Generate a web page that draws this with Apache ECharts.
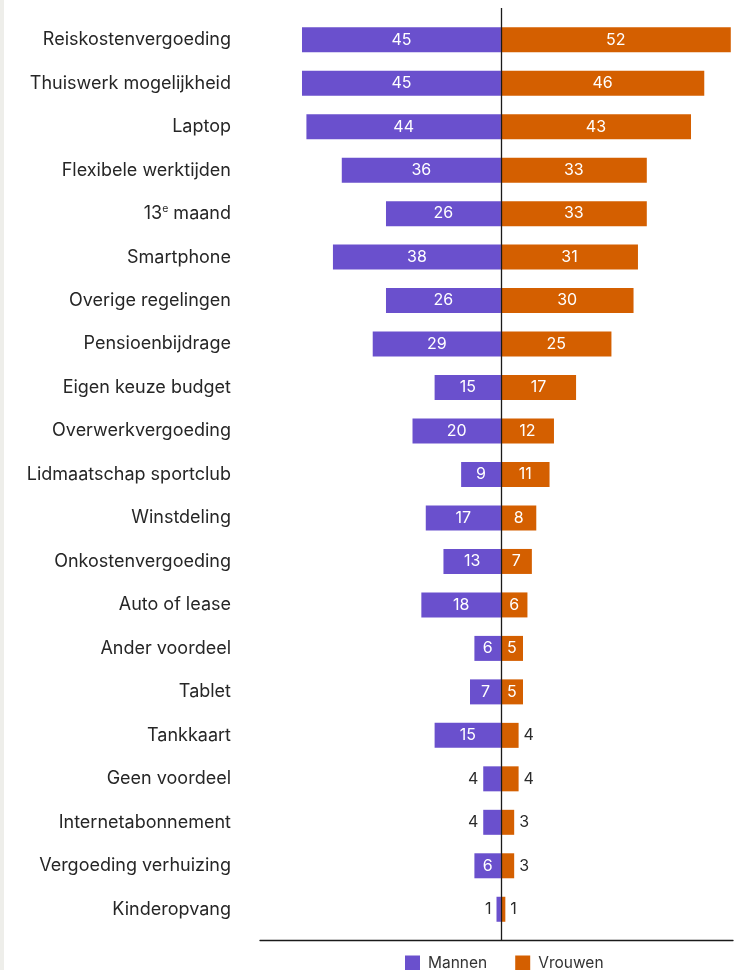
<!DOCTYPE html>
<html>
<head>
<meta charset="utf-8">
<script src="https://cdn.jsdelivr.net/npm/echarts@6/dist/echarts.min.js"></script>
<style>
  html, body { margin: 0; padding: 0; background: #ffffff; }
  #wrap { position: relative; width: 739px; height: 970px; }
  #strip { position: absolute; left: 0; top: 0; width: 4px; height: 970px; background: #eeeeea; }
  #chart { position: absolute; left: 0; top: 0; width: 739px; height: 970px; }
</style>
</head>
<body>
<div id="wrap">
  <div id="strip"></div>
  <div id="chart"></div>
</div>
<script>
// Benefits, share of respondents (%) per group
const categories = [
  'Reiskostenvergoeding', 'Thuiswerk mogelijkheid', 'Laptop', 'Flexibele werktijden',
  '13{sup|e} maand', 'Smartphone', 'Overige regelingen', 'Pensioenbijdrage',
  'Eigen keuze budget', 'Overwerkvergoeding', 'Lidmaatschap sportclub', 'Winstdeling',
  'Onkostenvergoeding', 'Auto of lease', 'Ander voordeel', 'Tablet', 'Tankkaart',
  'Geen voordeel', 'Internetabonnement', 'Vergoeding verhuizing', 'Kinderopvang'
];
const mannen = [45, 45, 44, 36, 26, 38, 26, 29, 15, 20, 9, 17, 13, 18, 6, 7, 15, 4, 4, 6, 1];
const vrouwen = [52, 46, 43, 33, 33, 31, 30, 25, 17, 12, 11, 8, 7, 6, 5, 5, 4, 4, 3, 3, 1];
const seriesNames = ['Mannen', 'Vrouwen'];

const PURPLE = '#6a50cd';
const ORANGE = '#d45f00';
const FONT = 'Inter, "Noto Sans", sans-serif';

// small values get their label outside the bar in dark text
function labelFor(v, side) {
  if (v >= 5) {
    return { show: true, position: 'inside', color: '#ffffff' };
  }
  return { show: true, position: side, color: '#2b2b2b', distance: 5 };
}

const chart = echarts.init(document.getElementById('chart'), null, { renderer: 'canvas' });

const option = {
  animation: false,
  textStyle: { fontFamily: FONT },
  legend: {
    data: seriesNames,
    bottom: -6,
    left: 400,
    itemWidth: 15,
    itemHeight: 15,
    itemGap: 28,
    icon: 'rect',
    textStyle: { fontFamily: FONT, fontSize: 15.5, color: '#333333', padding: [0, 0, 0, 3] }
  },
  grid: { left: 260, right: 6, top: 18, bottom: 39, containLabel: false },
  xAxis: {
    type: 'value',
    min: -54.5,
    max: 52.5,
    offset: 9,
    axisLine: { show: true, onZero: false, lineStyle: { color: '#1a1a1a', width: 1.3 } },
    axisTick: { show: false },
    axisLabel: { show: false },
    splitLine: { show: false }
  },
  yAxis: {
    type: 'category',
    inverse: true,
    data: categories,
    axisLine: { show: false, onZero: false },
    axisTick: { show: false },
    axisLabel: {
      margin: 29,
      fontFamily: FONT,
      fontSize: 18,
      color: '#262626',
      rich: {
        sup: { fontSize: 10.5, verticalAlign: 'top', padding: [0, 0, 9, 0], color: '#262626', fontFamily: FONT }
      }
    }
  },
  series: [
    {
      name: seriesNames[0],
      type: 'bar',
      stack: 'total',
      barWidth: 25,
      itemStyle: { color: PURPLE },
      data: mannen.map(v => ({
        value: -v,
        label: Object.assign(labelFor(v, 'left'), {
          formatter: String(v), fontFamily: FONT, fontSize: 16
        })
      }))
    },
    {
      name: seriesNames[1],
      type: 'bar',
      stack: 'total',
      barWidth: 25,
      itemStyle: { color: ORANGE },
      data: vrouwen.map(v => ({
        value: v,
        label: Object.assign(labelFor(v, 'right'), {
          formatter: String(v), fontFamily: FONT, fontSize: 16
        })
      }))
    }
  ]
};

chart.setOption(option);

// central divider at value 0, running from just above the first bar to the bottom axis
const zeroX = Math.round(chart.convertToPixel({ xAxisIndex: 0 }, 0)) + 0.5;
chart.setOption({
  graphic: [{
    type: 'line',
    z: 100,
    shape: { x1: zeroX, y1: 8, x2: zeroX, y2: 940 },
    style: { stroke: '#1a1a1a', lineWidth: 1.3 }
  }]
});
</script>
</body>
</html>
